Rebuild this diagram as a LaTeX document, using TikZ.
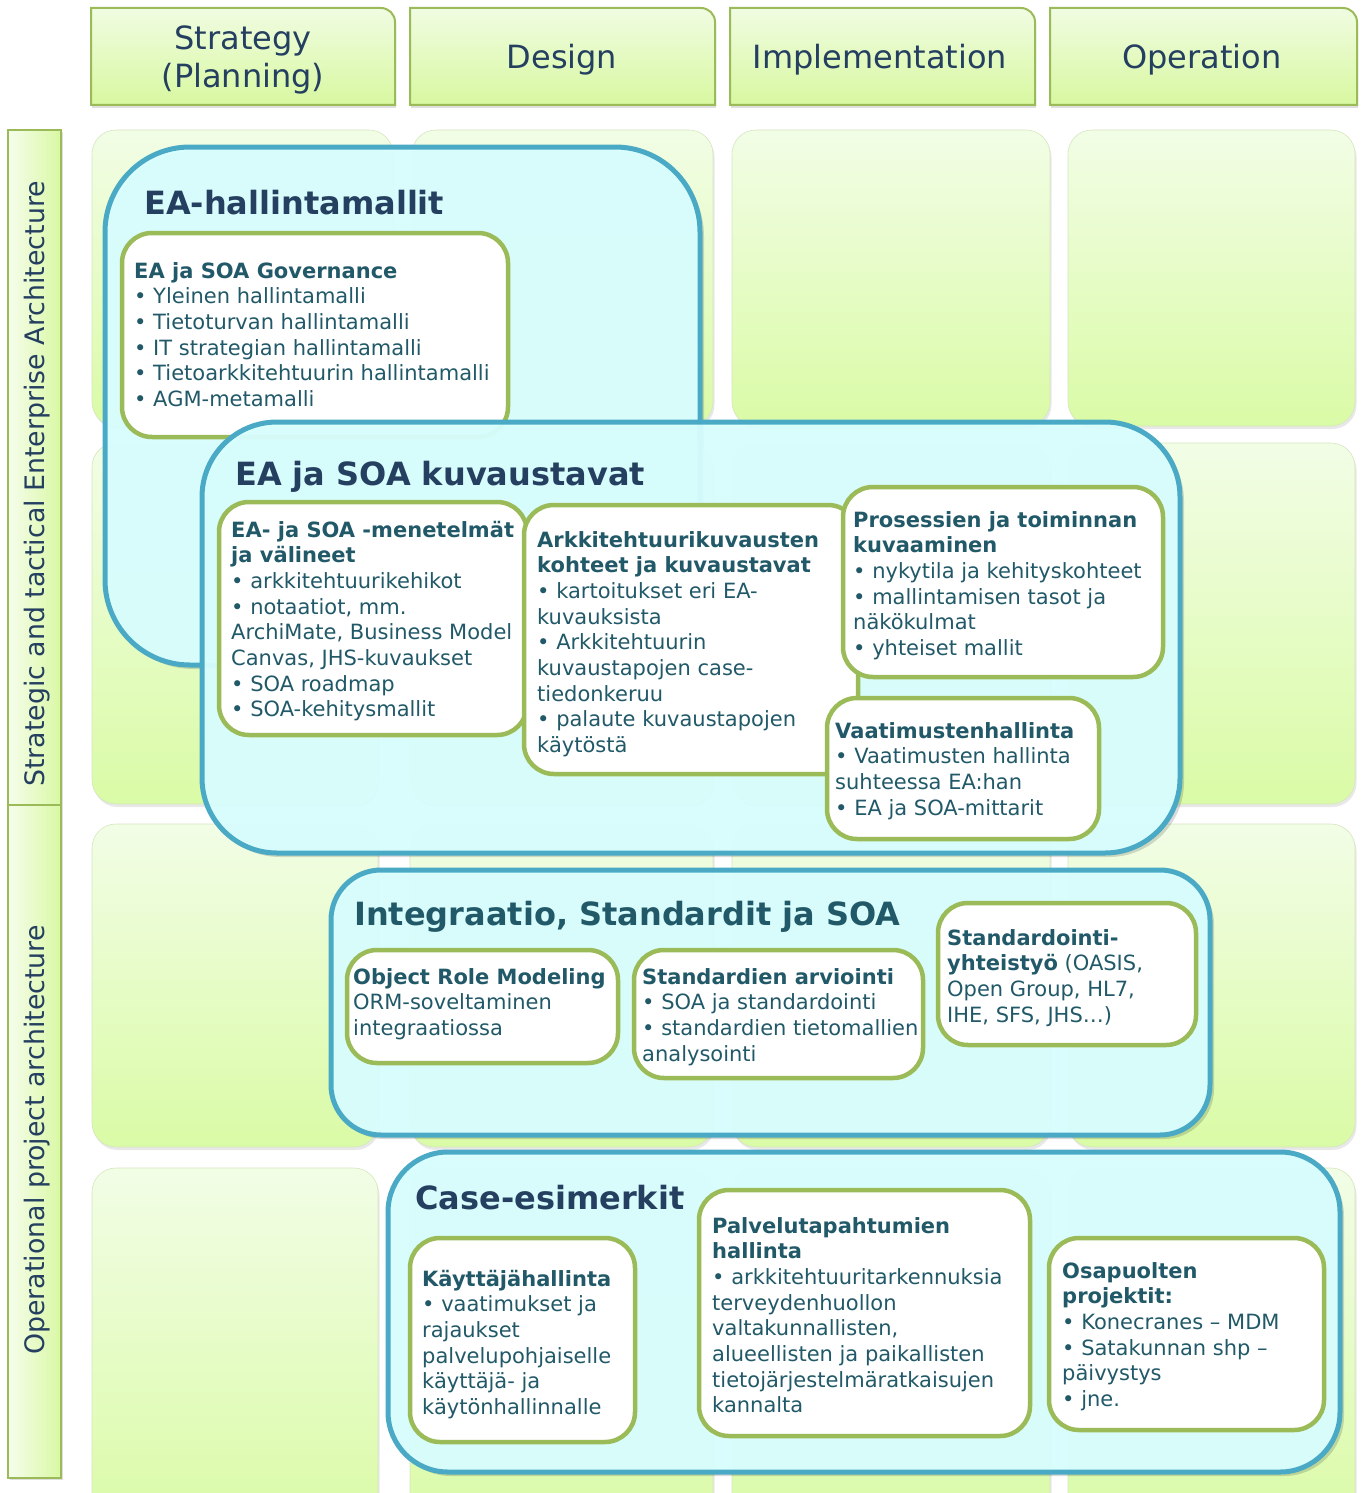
\documentclass[tikz,border=0pt]{standalone}
\usepackage{fontspec}
\setmainfont{DejaVu Sans}
\usetikzlibrary{shadows}
\definecolor{cellTop}{HTML}{F2FDE6}
\definecolor{cellBot}{HTML}{DAFBA6}
\definecolor{cellLine}{HTML}{D5E6BE}
\definecolor{hdTop}{HTML}{F0FCE2}
\definecolor{hdBot}{HTML}{D8F8A0}
\definecolor{lblL}{HTML}{F6FDEC}
\definecolor{lblR}{HTML}{D9F8A4}
\definecolor{grn}{HTML}{9BBB59}
\definecolor{blu}{HTML}{4AAAC6}
\definecolor{bluFill}{HTML}{D9FFFF}
\definecolor{navytx}{HTML}{243F60}
\definecolor{tealtx}{HTML}{215968}
\newcommand\lines[1]{\parbox[t]{900pt}{\raggedright #1}}
\newcommand\clines[1]{\parbox[t]{300pt}{\centering #1}}
\begin{document}
\begin{tikzpicture}[x=1pt,y=-1pt,
  hdr/.style={top color=hdTop, bottom color=hdBot, draw=grn, line width=2,
    drop shadow={shadow xshift=1pt, shadow yshift=-3pt, opacity=0.25}},
  lbl/.style={left color=lblL, right color=lblR, draw=grn, line width=1.8,
    drop shadow={shadow xshift=1.5pt, shadow yshift=-2pt, opacity=0.25}},
  cell/.style={rounded corners=24, top color=cellTop, bottom color=cellBot, draw=cellLine, line width=0.6,
    drop shadow={shadow xshift=1.5pt, shadow yshift=-3pt, opacity=0.18}},
  bluebox/.style={draw=blu, line width=5, fill=bluFill, fill opacity=0.95},
  blushadow/.style={fill=black, opacity=0.15},
  inbox/.style={draw=grn, line width=4.5, fill=white, rounded corners=30},
  hdtext/.style={anchor=base, inner sep=0, text=navytx, font=\fontsize{32}{38}\selectfont},
  vtext/.style={anchor=base, inner sep=0, rotate=90, text=navytx, font=\fontsize{26.8}{32}\selectfont},
  ttl/.style={anchor=base west, inner sep=0, font=\bfseries\fontsize{32}{38}\selectfont},
  txt/.style={anchor=base west, inner sep=0, text=tealtx, font=\fontsize{21}{25.7}\selectfont}
]
\useasboundingbox (0,0) rectangle (1363,1493);

% column headers
\foreach \a/\b in {91/395, 410/715, 730/1035, 1050/1357}{
  \draw[hdr] (\a,105) -- (\a,8) [rounded corners=14] -- (\b,8) [sharp corners] -- (\b,105) -- cycle;
}
\node[hdtext] (h1) at (243,50) {\clines{Strategy\\(Planning)}};
\node[hdtext] (h2) at (562,69) {Design};
\node[hdtext] (h3) at (880,69) {Implementation};
\node[hdtext] (h4) at (1202,69) {Operation};

% row labels
\draw[lbl] (8,130) rectangle (61,805);
\draw[lbl] (8,805) rectangle (61,1478);
\node[vtext] (v1) at (44,484) {Strategic and tactical Enterprise Architecture};
\node[vtext] (v2) at (44,1140) {Operational project architecture};

% grid cells
\foreach \a/\b in {92/393, 412/713, 732/1050, 1068/1355}{
  \draw[cell] (\a,130) rectangle (\b,426);
}
\foreach \ya/\yb in {443/804, 824/1147, 1168/1530}{
  \foreach \a/\b in {92/378, 410/713, 732/1050, 1068/1355}{
    \draw[cell] (\a,\ya) rectangle (\b,\yb);
  }
}

% box 1: EA-hallintamallit
\fill[blushadow, rounded corners=85] (108,151) rectangle (704,669);
\draw[bluebox, rounded corners=85] (105,147) rectangle (700,665);
\node[ttl, text=navytx] (t1) at (144,214) {EA-hallintamallit};
\draw[inbox] (122,233) rectangle (508,437);
\node[txt] (gov) at (134,278) {\lines{\textbf{EA ja SOA Governance}\\
• Yleinen hallintamalli\\
• Tietoturvan hallintamalli\\
• IT strategian hallintamalli\\
• Tietoarkkitehtuurin hallintamalli\\
• AGM-metamalli}};

% box 2: EA ja SOA kuvaustavat
\fill[blushadow, rounded corners=75] (205,426) rectangle (1184,857);
\draw[bluebox, rounded corners=75] (202,422) rectangle (1180,853);
\node[ttl, text=navytx] (t2) at (235,485) {EA ja SOA kuvaustavat};
\draw[inbox] (219,502) rectangle (527,735);
\node[txt] (men) at (231,537) {\lines{\textbf{EA- ja SOA -menetelmät}\\
\textbf{ja välineet}\\
• arkkitehtuurikehikot\\
• notaatiot, mm.\\
ArchiMate, Business Model\\
Canvas, JHS-kuvaukset\\
• SOA roadmap\\
• SOA-kehitysmallit}};
\draw[inbox] (524,505) rectangle (858,774);
\node[txt] (ark) at (537,547) {\lines{\textbf{Arkkitehtuurikuvausten}\\
\textbf{kohteet ja kuvaustavat}\\
• kartoitukset eri EA-\\
kuvauksista\\
• Arkkitehtuurin\\
kuvaustapojen case-\\
tiedonkeruu\\
• palaute kuvaustapojen\\
käytöstä}};
\draw[inbox] (843,487) rectangle (1163,677);
\node[txt] (pro) at (853,527) {\lines{\textbf{Prosessien ja toiminnan}\\
\textbf{kuvaaminen}\\
• nykytila ja kehityskohteet\\
• mallintamisen tasot ja\\
näkökulmat\\
• yhteiset mallit}};
\draw[inbox] (827,698) rectangle (1099,839);
\node[txt] (vaa) at (835,738) {\lines{\textbf{Vaatimustenhallinta}\\
• Vaatimusten hallinta\\
suhteessa EA:han\\
• EA ja SOA-mittarit}};

% box 3: Integraatio
\fill[blushadow, rounded corners=50] (334,874) rectangle (1214,1139);
\draw[bluebox, rounded corners=50] (331,870) rectangle (1210,1135);
\node[ttl, text=tealtx] (t3) at (354,925) {Integraatio, Standardit ja SOA};
\draw[inbox] (347,950) rectangle (618,1063);
\node[txt] (orm) at (353,984) {\lines{\textbf{Object Role Modeling}\\
ORM-soveltaminen\\
integraatiossa}};
\draw[inbox] (634,950) rectangle (923,1078);
\node[txt] (std) at (642,984) {\lines{\textbf{Standardien arviointi}\\
• SOA ja standardointi\\
• standardien tietomallien\\
analysointi}};
\draw[inbox] (938,903) rectangle (1196,1045);
\node[txt] (sto) at (947,945) {\lines{\textbf{Standardointi-}\\
\textbf{yhteistyö} (OASIS,\\
Open Group, HL7,\\
IHE, SFS, JHS…)}};

% box 4: Case-esimerkit
\fill[blushadow, rounded corners=60] (391,1156) rectangle (1344,1476);
\draw[bluebox, rounded corners=60] (388,1152) rectangle (1340,1472);
\node[ttl, text=navytx] (t4) at (415,1209) {Case-esimerkit};
\draw[inbox] (410,1238) rectangle (635,1442);
\node[txt] (kay) at (422,1286) {\lines{\textbf{Käyttäjähallinta}\\
• vaatimukset ja\\
rajaukset\\
palvelupohjaiselle\\
käyttäjä- ja\\
käytönhallinnalle}};
\draw[inbox] (699,1190) rectangle (1030,1436);
\node[txt] (pal) at (712,1233) {\lines{\textbf{Palvelutapahtumien}\\
\textbf{hallinta}\\
• arkkitehtuuritarkennuksia\\
terveydenhuollon\\
valtakunnallisten,\\
alueellisten ja paikallisten\\
tietojärjestelmäratkaisujen\\
kannalta}};
\draw[inbox] (1049,1238) rectangle (1324,1430);
\node[txt] (osa) at (1062,1278) {\lines{\textbf{Osapuolten}\\
\textbf{projektit:}\\
• Konecranes – MDM\\
• Satakunnan shp –\\
päivystys\\
• jne.}};
\end{tikzpicture}
\end{document}
